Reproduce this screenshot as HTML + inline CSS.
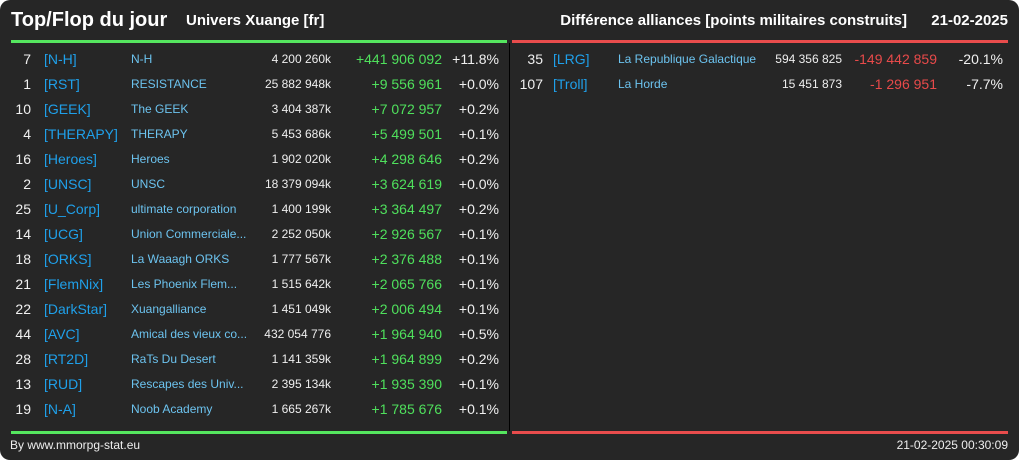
<!DOCTYPE html>
<html><head><meta charset="utf-8">
<style>
html,body{margin:0;padding:0;background:#fff;}
#frame{position:relative;width:1019px;height:460px;background:#262626;border-radius:10px;overflow:hidden;font-family:"Liberation Sans",sans-serif;color:#f0f0f0;}
.t{position:absolute;white-space:nowrap;line-height:1;}
.r{text-align:right;}
</style></head>
<body>
<div id="frame">
  <div class="t" style="left:11px;top:10px;font-size:20px;font-weight:bold;color:#fff;">Top/Flop du jour</div>
  <div class="t" style="left:186px;top:13px;font-size:15px;font-weight:bold;color:#fff;">Univers Xuange [fr]</div>
  <div class="t r" style="right:112px;top:13px;font-size:15px;font-weight:bold;color:#fff;">Différence alliances [points militaires construits]</div>
  <div class="t r" style="right:11px;top:13px;font-size:15px;font-weight:bold;color:#fff;">21-02-2025</div>
  <div style="position:absolute;left:11px;top:40px;width:496px;height:3px;background:#55e65f;"></div>
  <div style="position:absolute;left:512px;top:40px;width:496px;height:3px;background:#e84c4c;"></div>
  <div style="position:absolute;left:509px;top:43px;width:1px;height:388px;background:#000;"></div>
  <div style="position:absolute;left:11px;top:431px;width:496px;height:3px;background:#55e65f;"></div>
  <div style="position:absolute;left:512px;top:431px;width:496px;height:3px;background:#e84c4c;"></div>
  <div class="t" style="left:10px;top:439px;font-size:12px;color:#eee;">By www.mmorpg-stat.eu</div>
  <div class="t r" style="right:11px;top:439px;font-size:12px;color:#eee;">21-02-2025 00:30:09</div>
</div>
<script>
const topRanks=["7","1","10","4","16","2","25","14","18","21","22","44","28","13","19"];
const topTags=["[N-H]","[RST]","[GEEK]","[THERAPY]","[Heroes]","[UNSC]","[U_Corp]","[UCG]","[ORKS]","[FlemNix]","[DarkStar]","[AVC]","[RT2D]","[RUD]","[N-A]"];
const topNames=["N-H","RESISTANCE","The GEEK","THERAPY","Heroes","UNSC","ultimate corporation","Union Commerciale...","La Waaagh ORKS","Les Phoenix Flem...","Xuangalliance","Amical des vieux co...","RaTs Du Desert","Rescapes des Univ...","Noob Academy"];
const topPoints=["4 200 260k","25 882 948k","3 404 387k","5 453 686k","1 902 020k","18 379 094k","1 400 199k","2 252 050k","1 777 567k","1 515 642k","1 451 049k","432 054 776","1 141 359k","2 395 134k","1 665 267k"];
const topDiffs=["+441 906 092","+9 556 961","+7 072 957","+5 499 501","+4 298 646","+3 624 619","+3 364 497","+2 926 567","+2 376 488","+2 065 766","+2 006 494","+1 964 940","+1 964 899","+1 935 390","+1 785 676"];
const topPcts=["+11.8%","+0.0%","+0.2%","+0.1%","+0.2%","+0.0%","+0.2%","+0.1%","+0.1%","+0.1%","+0.1%","+0.5%","+0.2%","+0.1%","+0.1%"];
const flopRanks=["35","107"];
const flopTags=["[LRG]","[Troll]"];
const flopNames=["La Republique Galactique","La Horde"];
const flopPoints=["594 356 825","15 451 873"];
const flopDiffs=["-149 442 859","-1 296 951"];
const flopPcts=["-20.1%","-7.7%"];

const frame=document.getElementById('frame');
function put(txt,x,y,size,color,align,name){
  const el=document.createElement('div');
  el.className='t';
  el.textContent=txt;
  
  
  el.style.fontSize=size+'px';
  el.style.color=color;
  el.style.top=(y-size*0.55)+'px';
  if(align==='r'){el.style.right=(1019-x)+'px';}else{el.style.left=x+'px';}
  frame.appendChild(el);
}
function table(ranks,tags,names,pts,diffs,pcts,c,diffColor,prefix){
  for(let i=0;i<ranks.length;i++){
    const y=60+i*25;
    put(ranks[i],c[0],y,14,'#f0f0f0','r',prefix+'-rank');
    put(tags[i],c[1],y,14,'#1fa0ea','l',prefix+'-tag');
    put(names[i],c[2],y,12,'#6cc3ef','l',prefix+'-name');
    put(pts[i],c[3],y,12,'#eeeeee','r',prefix+'-points');
    put(diffs[i],c[4],y,14,diffColor,'r',prefix+'-diff');
    put(pcts[i],c[5],y,14,'#f0f0f0','r',prefix+'-pct');
  }
}
table(topRanks,topTags,topNames,topPoints,topDiffs,topPcts,[31,44,131,331,442,499],'#4fe05c','top');
table(flopRanks,flopTags,flopNames,flopPoints,flopDiffs,flopPcts,[543,553,618,842,937,1003],'#e84a4a','flop');
</script>
</body></html>
